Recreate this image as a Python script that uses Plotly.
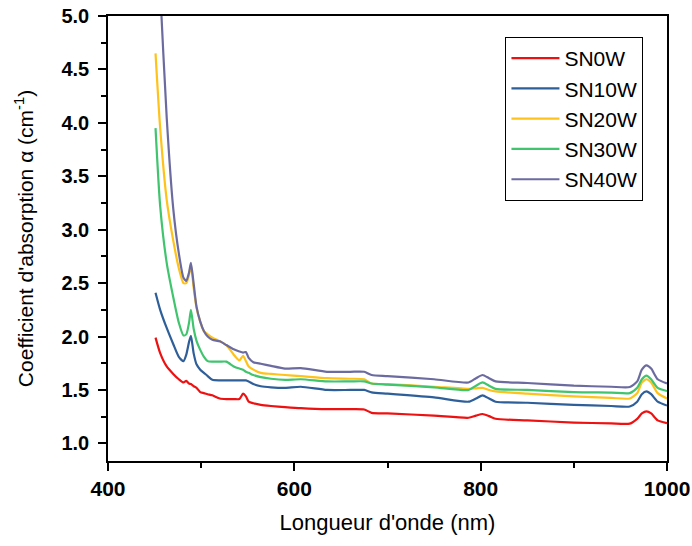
import plotly.graph_objects as go

wavelength = [451, 456, 463, 470, 476, 481, 484, 487, 489, 492, 495, 499, 503, 507, 512,
              520, 527, 535, 541, 545, 548, 551, 556, 564, 575, 590, 607, 635, 660, 675,
              683, 700, 750, 787, 795, 802, 809, 816, 850, 900, 940, 960, 968, 973, 978,
              983, 990, 1000]

sn0w = [1.99, 1.845, 1.72, 1.65, 1.60, 1.57, 1.585, 1.56, 1.555, 1.535, 1.52, 1.48, 1.47, 1.46, 1.45,
        1.42, 1.415, 1.415, 1.415, 1.465, 1.44, 1.39, 1.375, 1.36, 1.35, 1.34, 1.33, 1.32, 1.32, 1.317,
        1.286, 1.28, 1.26, 1.24, 1.26, 1.275, 1.255, 1.23, 1.215, 1.195, 1.187, 1.185, 1.23, 1.28, 1.30,
        1.28, 1.215, 1.19]

sn10w = [2.41, 2.25, 2.08, 1.93, 1.81, 1.77, 1.83, 1.95, 2.006, 1.84, 1.74, 1.69, 1.66, 1.63, 1.595,
         1.59, 1.59, 1.59, 1.59, 1.59, 1.59, 1.58, 1.555, 1.535, 1.525, 1.52, 1.53, 1.50, 1.50, 1.50,
         1.477, 1.465, 1.43, 1.39, 1.42, 1.45, 1.42, 1.39, 1.38, 1.36, 1.35, 1.345, 1.39, 1.46, 1.486,
         1.46, 1.39, 1.354]

sn20w = [4.65, 3.95, 3.28, 2.90, 2.64, 2.50, 2.50, 2.58, 2.67, 2.45, 2.27, 2.14, 2.05, 2.02, 1.99,
         1.955, 1.92, 1.83, 1.776, 1.82, 1.77, 1.72, 1.69, 1.66, 1.65, 1.64, 1.63, 1.61, 1.605, 1.60,
         1.56, 1.555, 1.53, 1.51, 1.515, 1.52, 1.50, 1.486, 1.465, 1.44, 1.425, 1.42, 1.47, 1.57, 1.60,
         1.57, 1.47, 1.42]

sn30w = [3.95, 3.22, 2.69, 2.37, 2.13, 2.01, 2.02, 2.13, 2.25, 2.07, 1.96, 1.875, 1.81, 1.77, 1.765,
         1.765, 1.765, 1.72, 1.70, 1.69, 1.67, 1.66, 1.64, 1.62, 1.605, 1.595, 1.60, 1.58, 1.58, 1.58,
         1.56, 1.55, 1.525, 1.50, 1.54, 1.57, 1.54, 1.51, 1.50, 1.48, 1.475, 1.47, 1.52, 1.60, 1.635,
         1.60, 1.52, 1.49]

sn40w = [6.2, 5.25, 4.05, 3.2, 2.78, 2.55, 2.52, 2.60, 2.69, 2.49, 2.28, 2.14, 2.05, 2.00, 1.97,
         1.955, 1.92, 1.88, 1.86, 1.85, 1.855, 1.80, 1.76, 1.745, 1.725, 1.70, 1.705, 1.67, 1.67, 1.67,
         1.64, 1.63, 1.60, 1.57, 1.61, 1.64, 1.61, 1.58, 1.565, 1.54, 1.53, 1.527, 1.58, 1.69, 1.73,
         1.70, 1.60, 1.56]

series_names = ["SN0W", "SN10W", "SN20W", "SN30W", "SN40W"]
series_values = [sn0w, sn10w, sn20w, sn30w, sn40w]
series_colors = ["#EE1111", "#2F5F99", "#FFC21A", "#40C46E", "#6B6BA0"]

fig = go.Figure()
for name, vals, col in zip(series_names, series_values, series_colors):
    fig.add_trace(go.Scatter(x=wavelength, y=vals, name=name, mode="lines",
                             line=dict(color=col, width=2.2, shape="spline", smoothing=0.6)))

font_family = "Liberation Sans, Arial, sans-serif"
fig.update_layout(
    width=692, height=546,
    margin=dict(l=108, r=25, t=16, b=85),
    paper_bgcolor="white", plot_bgcolor="white",
    font=dict(family=font_family, color="black"),
    legend=dict(x=0.711, y=0.953, xanchor="left", yanchor="top",
                bordercolor="black", borderwidth=1, bgcolor="white",
                font=dict(size=21, family=font_family, color="black"),
                itemwidth=48, tracegroupgap=0),
)
fig.update_xaxes(
    range=[400, 1000], dtick=200, tick0=400, automargin=False,
    showline=True, linecolor="black", linewidth=1.5, mirror=True,
    ticks="outside", ticklen=8, tickwidth=1.5, tickcolor="black",
    minor=dict(ticks="outside", ticklen=5, tickwidth=1.5, tickcolor="black", dtick=100),
    showgrid=False, zeroline=False,
    tickfont=dict(size=21, family=font_family, weight="bold"),
    title=dict(text="Longueur d'onde (nm)", font=dict(size=22, family=font_family), standoff=16),
)
fig.update_yaxes(
    range=[0.835, 5.0], dtick=0.5, tick0=1.0, tickformat=".1f", automargin=False,
    showline=True, linecolor="black", linewidth=1.5, mirror=True,
    ticks="outside", ticklen=8, tickwidth=1.5, tickcolor="black", ticklabelstandoff=5,
    minor=dict(ticks="outside", ticklen=5, tickwidth=1.5, tickcolor="black", dtick=0.25),
    showgrid=False, zeroline=False,
    tickfont=dict(size=20, family=font_family, weight="bold"),
    title=dict(text="Coefficient d'absorption α (cm<sup>-1</sup>)", font=dict(size=21, family=font_family), standoff=22),
)
fig.write_html("out.html")
